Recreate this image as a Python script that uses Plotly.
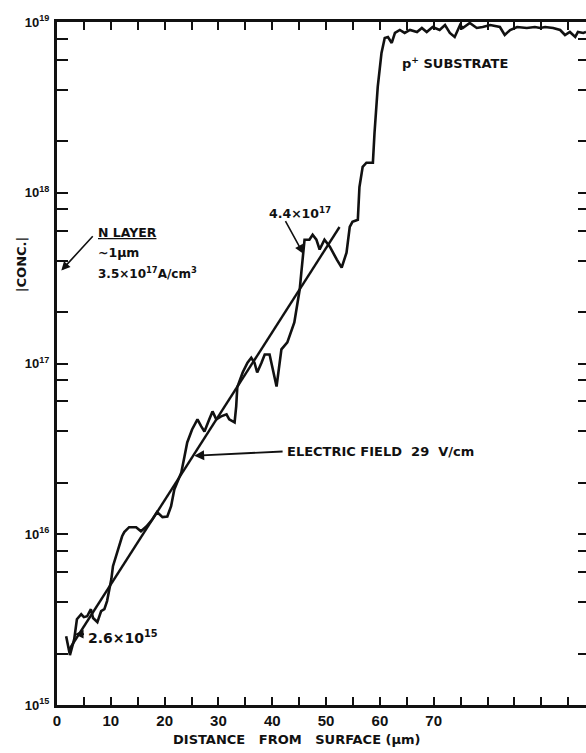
import numpy as np
import plotly.graph_objects as go

# Measured net doping profile vs. depth
depth_um = [1.7, 2.4, 3.2, 3.7, 4.5, 5.0, 5.6, 6.3, 6.7, 7.5, 8.2, 8.8, 9.3, 10.1, 10.4,
            11.2, 12.1, 12.5, 13.4, 14.7, 15.6, 16.6, 17.7, 18.6, 19.6, 20.5, 21.2, 21.8,
            22.2, 23.1, 23.7, 24.2, 25.1, 26.1, 26.8, 27.4, 28.3, 28.9, 29.6, 30.5, 31.5,
            32.0, 33.0, 33.3, 33.5, 34.5, 35.4, 36.1, 36.7, 37.2, 38.0, 38.6, 39.5, 40.0,
            40.8, 41.7, 42.8, 44.1, 45.1, 45.4, 46.0, 46.9, 47.5, 48.2, 48.8, 49.7, 50.7,
            52.0, 52.9, 53.8, 54.4, 54.9, 55.9, 56.2, 56.8, 57.5, 58.7, 59.0, 59.6, 60.3,
            60.9, 61.5, 62.2,
            62.8, 63.7, 64.6, 65.6, 66.9, 67.8, 68.7, 69.8, 71.1, 72.1, 73.0, 73.9, 74.9,
            75.4, 76.7, 78.0, 79.1, 80.5, 82.3, 83.2, 84.2, 85.5, 87.3, 88.8, 89.8, 90.7,
            92.2, 93.5, 94.4, 95.3, 96.3, 96.8, 97.8, 98.3]
conc_cm3 = [2.53e15, 1.96e15, 2.43e15, 3.18e15, 3.40e15, 3.27e15, 3.31e15, 3.64e15, 3.23e15,
            3.06e15, 3.55e15, 3.64e15, 4.06e15, 5.46e15, 6.50e15, 7.85e15, 9.73e15, 1.03e16,
            1.10e16, 1.10e16, 1.04e16, 1.11e16, 1.22e16, 1.35e16, 1.26e16, 1.27e16, 1.46e16,
            1.83e16, 1.96e16, 2.30e16, 2.86e16, 3.45e16, 4.11e16, 4.71e16, 4.28e16, 4.00e16,
            4.71e16, 5.24e16, 4.71e16, 4.90e16, 5.04e16, 4.71e16, 4.52e16, 5.61e16, 7.25e16,
            8.86e16, 1.01e17, 1.08e17, 1.01e17, 8.86e16, 1.01e17, 1.13e17, 1.13e17, 9.60e16,
            7.33e16, 1.21e17, 1.33e17, 1.74e17, 2.71e17, 3.41e17, 5.31e17, 5.31e17, 5.68e17,
            5.31e17, 4.65e17, 5.31e17, 4.83e17, 4.06e17, 3.64e17, 4.46e17, 6.32e17, 6.76e17,
            6.95e17, 1.08e18, 1.42e18, 1.50e18, 1.50e18, 2.24e18, 4.17e18, 6.59e18, 8.06e18,
            8.17e18, 7.54e18,
            8.63e18, 8.98e18, 8.63e18, 8.98e18, 8.74e18, 9.23e18, 8.74e18, 9.35e18, 8.98e18,
            9.60e18, 8.63e18, 8.17e18, 9.60e18, 9.23e18, 9.87e18, 9.23e18, 9.35e18, 9.60e18,
            9.35e18, 8.39e18, 8.98e18, 9.35e18, 9.23e18, 9.35e18, 9.23e18, 9.35e18, 9.23e18,
            8.98e18, 8.39e18, 8.74e18, 8.17e18, 8.74e18, 8.63e18, 8.74e18]

# Straight-line (exponential) fit through the graded region
fit_depth_um = [2.2, 52.5]
fit_conc_cm3 = [2.1e15, 6.3e17]

# Annotated values
n_layer_conc = 3.5e17
start_conc = 2.6e15
step_conc = 4.4e17

# Axis ticks
x_tick_vals = list(range(0, 100, 5))
x_tick_text = [str(v) if (v % 10 == 0 and v <= 70) else "" for v in x_tick_vals]
y_decades = [15, 16, 17, 18, 19]
y_tick_vals = []
y_tick_text = []
for d in y_decades:
    for m in ([1, 2, 4, 6, 8] if d < 19 else [1]):
        y_tick_vals.append(m * 10.0 ** d)
        y_tick_text.append(f"10<sup>{d}</sup>" if m == 1 else "")

TICK_FONT = "Liberation Sans"
NOTE_FONT = "DejaVu Sans"
BLACK = "#111111"

fig = go.Figure()
fig.add_trace(go.Scatter(x=depth_um, y=conc_cm3, mode="lines",
                         line=dict(color=BLACK, width=2.6), showlegend=False,
                         hoverinfo="skip"))
fig.add_trace(go.Scatter(x=fit_depth_um, y=fit_conc_cm3, mode="lines",
                         line=dict(color=BLACK, width=2.4), showlegend=False,
                         hoverinfo="skip", yaxis="y2"))

yr = [15, 19]
fig.update_layout(
    width=586, height=753,
    margin=dict(l=57, r=0, t=22, b=48),
    paper_bgcolor="white", plot_bgcolor="white",
    xaxis=dict(range=[0, 98.3], tickmode="array", tickvals=x_tick_vals, ticktext=x_tick_text,
               ticks="inside", ticklen=8, tickwidth=2, tickcolor=BLACK,
               showline=True, linewidth=3, linecolor=BLACK, mirror="ticks",
               showgrid=False, zeroline=False,
               tickfont=dict(family=TICK_FONT, size=15, color=BLACK, weight="bold")),
    yaxis=dict(type="log", range=yr, tickmode="array", tickvals=y_tick_vals, ticktext=y_tick_text,
               ticks="inside", ticklen=11, tickwidth=2, tickcolor=BLACK,
               showline=True, linewidth=3, linecolor=BLACK, mirror=False,
               showgrid=False, zeroline=False, ticklabelstandoff=2,
               tickfont=dict(family=TICK_FONT, size=13, color=BLACK, weight="bold")),
    yaxis2=dict(type="log", range=yr, overlaying="y", side="right", anchor="x",
                tickmode="array", tickvals=y_tick_vals, ticks="inside", ticklen=8,
                tickwidth=2, tickcolor=BLACK, showticklabels=False,
                showline=False, showgrid=False, zeroline=False),
)

txt = dict(family=NOTE_FONT, color=BLACK, weight="bold")

def label(x, y, text, size=13, xanchor="left"):
    fig.add_annotation(x=x, y=y, xref="x", yref="y", text=text, showarrow=False,
                       xanchor=xanchor, yanchor="middle", font=dict(size=size, **txt))

def arrow(x, y, ax, ay, width=1.6):
    fig.add_annotation(x=x, y=np.log10(y), xref="x", yref="y", ax=ax, ay=np.log10(ay),
                       axref="x", ayref="y", text="", showarrow=True, arrowhead=2,
                       arrowsize=1.1, arrowwidth=width, arrowcolor=BLACK, standoff=0)

# Axis titles
fig.add_annotation(x=0.454, y=-0.051, xref="paper", yref="paper",
                   text="DISTANCE&nbsp;&nbsp;&nbsp;FROM&nbsp;&nbsp;&nbsp;SURFACE (\u03bcm)",
                   showarrow=False, xanchor="center", yanchor="middle",
                   font=dict(size=13, **txt))
fig.add_annotation(x=-0.068, y=0.644, xref="paper", yref="paper", text="|CONC.|",
                   textangle=-90, showarrow=False, xanchor="center", yanchor="middle",
                   font=dict(size=13, **txt))

# N layer note
label(7.2, 17.766, "<u>N LAYER</u>", 12.5)
label(7.2, 17.649, "~1\u03bcm", 12.5)
label(7.2, 17.530, "3.5\u00d710<sup>17</sup>A/cm<sup>3</sup>", 12)
arrow(0.8, n_layer_conc, 6.9, 10 ** 17.754)

# Graded-region notes
label(5.4, 15.40, "2.6\u00d710<sup>15</sup>", 14)
arrow(3.3, start_conc, 5.3, start_conc)
label(39.0, 17.883, "4.4\u00d710<sup>17</sup>", 12.5)
arrow(45.76, step_conc, 42.3, 10 ** 17.842)
label(42.3, 16.485, "ELECTRIC FIELD&nbsp;&nbsp;29&nbsp;&nbsp;V/cm", 13)
arrow(25.5, 10 ** 16.46, 42.2, 10 ** 16.485, 1.8)

# Substrate note
label(63.7, 18.760, "p<sup>+</sup> SUBSTRATE", 13)

fig.write_html("out.html")
